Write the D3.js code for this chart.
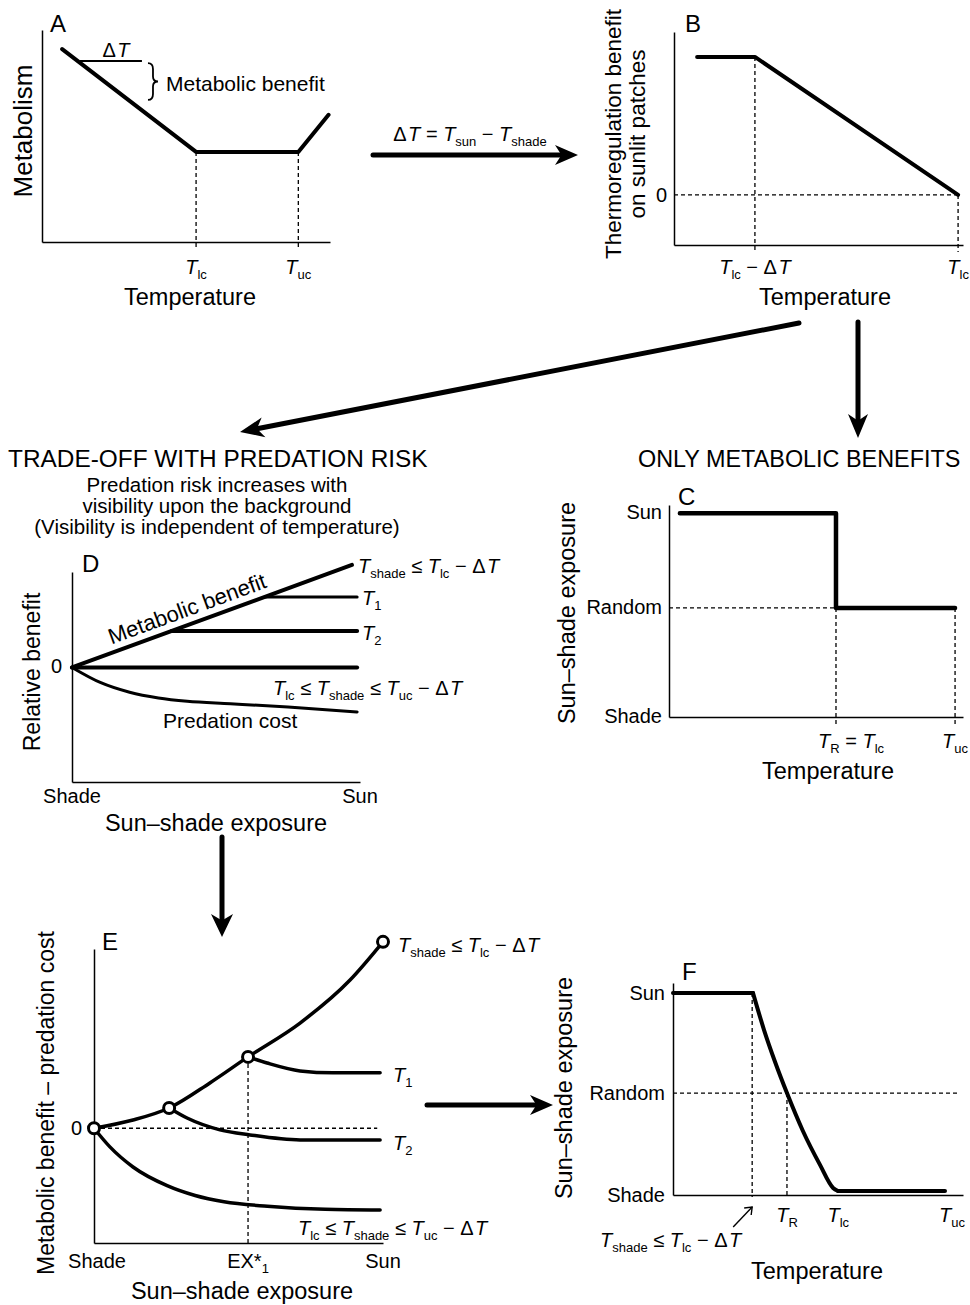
<!DOCTYPE html>
<html><head><meta charset="utf-8">
<script src="https://cdn.jsdelivr.net/npm/d3@7"></script>
<style>
body{margin:0;background:#fff;}
svg{display:block;background:#fff;}
text{font-family:"Liberation Sans",Arial,Helvetica,sans-serif;fill:#000;}
</style></head><body>
<svg id="fig" width="970" height="1305"></svg>
<script>
// ================= DATA =================
// Panel A: metabolism vs temperature
const aTemp = [7, 53.5, 89, 99.5];
const aMetab = [91, 42.5, 42.5, 60];
const aTlc = 53.5, aTuc = 89;
const aDeltaSpan = [13.2, 34.7], aDeltaLevel = 85.4;
const aBraceSpan = [84.4, 67], aBraceX = 36.8;
// Panel B: thermoregulation benefit vs temperature
const bTemp = [8, 28, 98.3];
const bBenefit = [88.3, 88.3, 23.5];
const bZero = 23.5, bTlcMinusDT = 28, bTlc = 98.3;
// Panel C: only metabolic benefits
const cTemp = [3.7, 56.8, 56.8, 97.3];
const cExpo = [1, 1, 0.535, 0.535];
const cLevels = ["Shade", "Random", "Sun"], cLevelVals = [0, 0.535, 1];
const cTR = 56.8, cTuc = 97.3;
// Panel D: relative benefit vs sun-shade exposure
const dMetabX = [0, 97.2], dMetabY = [0, 1.074];
const dBranchStart = [66.9, 34.6, 0], dBranchLevel = [0.739, 0.382, 0], dBranchEnd = 99;
const dPredX = [0, 10, 20, 30, 40, 55, 75, 99];
const dPredY = [0, -0.16, -0.26, -0.32, -0.355, -0.38, -0.415, -0.466];
// Panel E: metabolic benefit - predation cost
const eMainX = [0, 13.5, 26.0, 40.1, 53.3, 71.3, 88.6, 100];
const eMainY = [0, 0.046, 0.113, 0.253, 0.398, 0.587, 0.827, 1.040];
const eT1X = [53.3, 59.9, 71.3, 82.7, 99.0];
const eT1Y = [0.398, 0.364, 0.320, 0.309, 0.309];
const eT2X = [26.0, 32.2, 43.6, 54.0, 71.3, 99.0];
const eT2Y = [0.113, 0.057, -0.009, -0.037, -0.065, -0.065];
const eLowX = [0, 5.5, 13.5, 25.3, 35, 45, 60, 80, 99];
const eLowY = [0, -0.104, -0.216, -0.32, -0.375, -0.41, -0.435, -0.452, -0.456];
const eCircleIdx = [0, 2, 4, 7];
const eEX1 = 53.3;
// Panel F: sun-shade exposure vs temperature with predation
const fTopX = [0, 27.6], fTopY = [1, 1];
const fDropX = [27.6, 31.4, 35.2, 39.3, 44.8, 50.7, 55.2, 56.9];
const fDropY = [1, 0.817, 0.659, 0.505, 0.317, 0.149, 0.035, 0.02];
const fLowX = [56.9, 93.8], fLowY = [0.02, 0.02];
const fLevels = ["Shade", "Random", "Sun"], fLevelVals = [0, 0.505, 1];
const fTshade = 27.3, fTR = 39.3, fTlc = 57, fTuc = 96.2;

// ================= HELPERS =================
const svg = d3.select('#fig');
const zip = (a, b) => a.map((v, i) => [v, b[i]]);
function drawPath(pts, x, y, w, curve) {
  svg.append('path')
    .attr('d', d3.line().x(d => x(d[0])).y(d => y(d[1])).curve(curve || d3.curveLinear)(pts))
    .attr('fill', 'none').attr('stroke', '#000').attr('stroke-width', w)
    .attr('stroke-linejoin', 'round').attr('stroke-linecap', 'round');
}
function dashed(x1, y1, x2, y2) {
  svg.append('line').attr('x1', x1).attr('y1', y1).attr('x2', x2).attr('y2', y2)
    .attr('stroke', '#000').attr('stroke-width', 1.3).attr('stroke-dasharray', '4,3');
}
function axes(x, y) {
  svg.append('g').attr('transform', `translate(0,${y.range()[0]})`)
    .call(d3.axisBottom(x).tickValues([]).tickSizeOuter(0))
    .select('.domain').attr('stroke-width', 1.5);
  svg.append('g').attr('transform', `translate(${x.range()[0]},0)`)
    .call(d3.axisLeft(y).tickValues([]).tickSizeOuter(0))
    .select('.domain').attr('stroke-width', 1.5);
}
function txt(x, y, s, size, anchor) {
  return svg.append('text').attr('x', x).attr('y', y).attr('font-size', size)
    .attr('text-anchor', anchor || 'start').text(s);
}
function vtext(x, y, s, size) {
  return svg.append('text').attr('transform', `translate(${x},${y}) rotate(-90)`)
    .attr('text-anchor', 'middle').attr('font-size', size).text(s);
}
// parts: [string, kind]  kind: i = italic, n = normal, s = subscript, g = italic with small gap
function mtext(x, y, parts, o) {
  o = o || {};
  const size = o.size || 20, sub = o.sub || 13;
  const t = svg.append('text').attr('x', x).attr('y', y)
    .attr('text-anchor', o.anchor || 'start').attr('font-size', size);
  let shift = 0;
  parts.forEach(([s, k]) => {
    const ts = t.append('tspan').text(s.replace(/ /g, '\u00A0'));
    const target = k === 's' ? size * 0.26 : 0;
    if (target !== shift) { ts.attr('dy', target - shift); shift = target; }
    if (k === 's') ts.attr('font-size', sub);
    if (k === 'i') ts.attr('font-style', 'italic');
    if (k === 'g') ts.attr('dx', 1.5).attr('font-style', 'italic');
  });
  return t;
}
function arrow(x1, y1, x2, y2, o) {
  o = o || {};
  const w = o.w || 5, hl = o.hl || 24, hw = o.hw || 11;
  const dx = x2 - x1, dy = y2 - y1, L = Math.hypot(dx, dy), ux = dx / L, uy = dy / L, px = -uy, py = ux;
  const bx = x2 - ux * hl, by = y2 - uy * hl;
  const nx = x2 - ux * hl * 0.72, ny = y2 - uy * hl * 0.72;
  svg.append('line').attr('x1', x1).attr('y1', y1).attr('x2', nx).attr('y2', ny)
    .attr('stroke', '#000').attr('stroke-width', w).attr('stroke-linecap', 'round');
  svg.append('path').attr('d', `M${x2},${y2}L${bx + px * hw},${by + py * hw}L${nx},${ny}L${bx - px * hw},${by - py * hw}Z`)
    .attr('fill', '#000');
}
const Tlc = [['T', 'i'], ['lc', 's']];
const Tuc = [['T', 'i'], ['uc', 's']];
const Tshade = [['T', 'i'], ['shade', 's']];
const DT = [['Δ', 'n'], ['T', 'g']];
const leq = [[' ≤ ', 'n']];
const minus = [[' − ', 'n']];

// ================= PANEL A =================
const xA = d3.scaleLinear([0, 100], [42, 330]);
const yA = d3.scaleLinear([0, 100], [242, 30]);
axes(xA, yA);
dashed(xA(aTlc), yA(aMetab[1]), xA(aTlc), yA(0) + 8);
dashed(xA(aTuc), yA(aMetab[2]), xA(aTuc), yA(0) + 8);
drawPath(zip(aTemp, aMetab), xA, yA, 4);
svg.append('line').attr('x1', xA(aDeltaSpan[0])).attr('x2', xA(aDeltaSpan[1]))
  .attr('y1', yA(aDeltaLevel)).attr('y2', yA(aDeltaLevel)).attr('stroke', '#000').attr('stroke-width', 2);
{
  const bx = xA(aBraceX), t = yA(aBraceSpan[0]), b = yA(aBraceSpan[1]), m = (t + b) / 2;
  svg.append('path').attr('d', `M${bx},${t} Q${bx + 5},${t} ${bx + 5},${t + 6} L${bx + 5},${m - 5} Q${bx + 5},${m} ${bx + 10},${m} Q${bx + 5},${m} ${bx + 5},${m + 5} L${bx + 5},${b - 6} Q${bx + 5},${b} ${bx},${b}`)
    .attr('fill', 'none').attr('stroke', '#000').attr('stroke-width', 1.8);
}
txt(50, 32, 'A', 24);
mtext((xA(aDeltaSpan[0]) + xA(aDeltaSpan[1])) / 2 + 5, 57, DT, { anchor: 'middle' });
txt(166, 91, 'Metabolic benefit', 21);
vtext(32, 131, 'Metabolism', 26);
mtext(xA(aTlc), 274, Tlc, { anchor: 'middle' });
mtext(xA(aTuc), 274, Tuc, { anchor: 'middle' });
txt(190, 305, 'Temperature', 23.5, 'middle');

// A -> B arrow
arrow(373, 155, 578, 155, { hl: 23, hw: 10 });
mtext(470, 141, [...DT, [' = ', 'n'], ['T', 'i'], ['sun', 's'], ...minus, ...Tshade], { anchor: 'middle' });

// ================= PANEL B =================
const xB = d3.scaleLinear([0, 100], [674, 963]);
const yB = d3.scaleLinear([0, 100], [245, 32]);
axes(xB, yB);
dashed(xB(0), yB(bZero), xB(bTlc), yB(bZero));
dashed(xB(bTlcMinusDT), yB(bBenefit[1]), xB(bTlcMinusDT), yB(0) + 6);
dashed(xB(bTlc), yB(bZero), xB(bTlc), yB(0) + 7);
drawPath(zip(bTemp, bBenefit), xB, yB, 4);
txt(685, 32, 'B', 24);
txt(667, 202, '0', 20, 'end');
vtext(621, 134, 'Thermoregulation benefit', 22.5);
vtext(645, 134, 'on sunlit patches', 22.5);
mtext(xB(bTlcMinusDT), 274, [...Tlc, ...minus, ...DT], { anchor: 'middle' });
mtext(xB(bTlc), 274, Tlc, { anchor: 'middle' });
txt(825, 305, 'Temperature', 23.5, 'middle');

// B -> D and B -> C arrows
arrow(799, 323, 240, 432, { hl: 24, hw: 10 });
arrow(858, 322, 858, 438, { hl: 24, hw: 10 });

// ================= PANEL D =================
txt(8, 467, 'TRADE-OFF WITH PREDATION RISK', 24.4);
txt(217, 492, 'Predation risk increases with', 20.5, 'middle');
txt(217, 513, 'visibility upon the background', 20.5, 'middle');
txt(217, 534, '(Visibility is independent of temperature)', 20.5, 'middle');
const xD = d3.scaleLinear([0, 100], [72, 360]);
const yD = d3.scaleLinear([-1.2, 1], [782, 572]);
axes(xD, yD);
drawPath(zip(dPredX, dPredY), xD, yD, 3, d3.curveMonotoneX);
dBranchStart.forEach((s, i) => drawPath([[s, dBranchLevel[i]], [dBranchEnd, dBranchLevel[i]]], xD, yD, i === 0 ? 3 : 4));
drawPath(zip(dMetabX, dMetabY), xD, yD, 4);
{
  const ang = Math.atan2(yD(dMetabY[1]) - yD(dMetabY[0]), xD(dMetabX[1]) - xD(dMetabX[0])) * 180 / Math.PI;
  const px = 41.8, py = dMetabY[1] * px / dMetabX[1];
  svg.append('text').attr('transform', `translate(${xD(px)},${yD(py)}) rotate(${ang})`)
    .attr('y', -8).attr('text-anchor', 'middle').attr('font-size', 22).text('Metabolic benefit');
}
txt(82, 572, 'D', 24);
txt(62, 673, '0', 20, 'end');
mtext(358, 573, [...Tshade, ...leq, ...Tlc, ...minus, ...DT]);
mtext(362, 605, [['T', 'i'], ['1', 's']]);
mtext(362, 640, [['T', 'i'], ['2', 's']]);
mtext(273, 695, [...Tlc, ...leq, ...Tshade, ...leq, ...Tuc, ...minus, ...DT]);
txt(163, 728, 'Predation cost', 21);
txt(xD(0), 803, 'Shade', 20, 'middle');
txt(xD(100), 803, 'Sun', 20, 'middle');
txt(216, 831, 'Sun–shade exposure', 23.5, 'middle');
vtext(40, 672, 'Relative benefit', 23);

// D -> E arrow
arrow(222, 837, 222, 937, { hl: 23, hw: 11 });

// ================= PANEL C =================
txt(638, 467, 'ONLY METABOLIC BENEFITS', 23.4);
const xC = d3.scaleLinear([0, 100], [669, 963]);
const yC = d3.scaleLinear([0, 1.04], [717, 505]);
axes(xC, yC);
dashed(xC(0), yC(cLevelVals[1]), xC(cTR), yC(cLevelVals[1]));
dashed(xC(cTR), yC(cLevelVals[1]), xC(cTR), yC(0) + 9);
dashed(xC(cTuc), yC(cLevelVals[1]), xC(cTuc), yC(0) + 9);
drawPath(zip(cTemp, cExpo), xC, yC, 4.5);
txt(678, 505, 'C', 24);
cLevels.forEach((l, i) => txt(662, yC(cLevelVals[i]) + 6, l, 20, 'end'));
mtext(818, 748, [['T', 'i'], ['R', 's'], [' = ', 'n'], ...Tlc]);
mtext(xC(cTuc), 748, Tuc, { anchor: 'middle' });
txt(828, 779, 'Temperature', 23.5, 'middle');
vtext(575, 613, 'Sun–shade exposure', 23.5);

// ================= PANEL E =================
const xE = d3.scaleLinear([0, 100], [94, 383]);
const yE = d3.scaleLinear([-0.64, 1], [1243, 949]);
axes(xE, yE);
dashed(xE(0), yE(0), xE(98), yE(0));
dashed(xE(eEX1), yE(eMainY[4]), xE(eEX1), yE(-0.64));
drawPath(zip(eLowX, eLowY), xE, yE, 3.5, d3.curveMonotoneX);
drawPath(zip(eT2X, eT2Y), xE, yE, 3.5, d3.curveMonotoneX);
drawPath(zip(eT1X, eT1Y), xE, yE, 3.5, d3.curveMonotoneX);
drawPath(zip(eMainX, eMainY), xE, yE, 3.5, d3.curveMonotoneX);
svg.selectAll('circle.e').data(eCircleIdx).join('circle').attr('class', 'e')
  .attr('cx', i => xE(eMainX[i])).attr('cy', i => yE(eMainY[i])).attr('r', 5.5)
  .attr('fill', '#fff').attr('stroke', '#000').attr('stroke-width', 3);
txt(102, 950, 'E', 24);
txt(82, 1135, '0', 20, 'end');
mtext(398, 952, [...Tshade, ...leq, ...Tlc, ...minus, ...DT]);
mtext(393, 1082, [['T', 'i'], ['1', 's']]);
mtext(393, 1150, [['T', 'i'], ['2', 's']]);
mtext(298, 1235, [...Tlc, ...leq, ...Tshade, ...leq, ...Tuc, ...minus, ...DT]);
txt(xE(0) + 3, 1268, 'Shade', 20, 'middle');
mtext(xE(eEX1), 1268, [['EX*', 'n'], ['1', 's']], { anchor: 'middle' });
txt(xE(100), 1268, 'Sun', 20, 'middle');
txt(242, 1299, 'Sun–shade exposure', 23.5, 'middle');
vtext(54, 1103, 'Metabolic benefit – predation cost', 23);

// E -> F arrow
arrow(427, 1105, 553, 1105, { hl: 23, hw: 10 });

// ================= PANEL F =================
const xF = d3.scaleLinear([0, 100], [673, 963]);
const yF = d3.scaleLinear([0, 1.05], [1195, 983]);
axes(xF, yF);
dashed(xF(0), yF(fLevelVals[1]), xF(98), yF(fLevelVals[1]));
dashed(xF(fTshade), yF(1), xF(fTshade), yF(0) + 2);
dashed(xF(fTR), yF(fLevelVals[1]), xF(fTR), yF(0) + 2);
drawPath(zip(fTopX, fTopY), xF, yF, 4);
drawPath(zip(fDropX, fDropY), xF, yF, 4, d3.curveMonotoneX);
drawPath(zip(fLowX, fLowY), xF, yF, 4);
txt(682, 980, 'F', 24);
fLevels.forEach((l, i) => txt(665, yF(fLevelVals[i]) + 7, l, 20, 'end'));
mtext(xF(fTR), 1222, [['T', 'i'], ['R', 's']], { anchor: 'middle' });
mtext(xF(fTlc), 1222, Tlc, { anchor: 'middle' });
mtext(xF(fTuc), 1222, Tuc, { anchor: 'middle' });
{
  const x2 = xF(fTshade), y2 = 1207, x1 = x2 - 19, y1 = 1227;
  svg.append('line').attr('x1', x1).attr('y1', y1).attr('x2', x2).attr('y2', y2).attr('stroke', '#000').attr('stroke-width', 1.4);
  svg.append('path').attr('d', `M${x2 - 8},${y2 + 1}L${x2},${y2}L${x2 - 1},${y2 + 8}`).attr('fill', 'none').attr('stroke', '#000').attr('stroke-width', 1.4);
}
mtext(600, 1247, [...Tshade, ...leq, ...Tlc, ...minus, ...DT]);
txt(817, 1279, 'Temperature', 23.5, 'middle');
vtext(572, 1088, 'Sun–shade exposure', 23.5);
</script>
</body></html>
